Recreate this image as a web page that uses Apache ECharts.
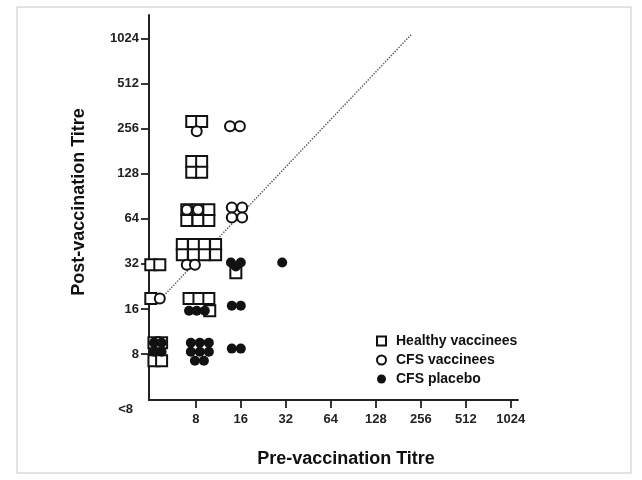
<!DOCTYPE html>
<html>
<head>
<meta charset="utf-8">
<script src="https://cdn.jsdelivr.net/npm/echarts@6/dist/echarts.min.js"></script>
<style>
html, body { margin: 0; padding: 0; background: #fff; }
#main { width: 642px; height: 480px; }
</style>
</head>
<body>
<div id="main"></div>
<script>
// titres on a log2 scale: value = log2(titre), 2 stands for "<8"
var tickValues = [3, 4, 5, 6, 7, 8, 9, 10];
var yLabelValues = [2, 3, 4, 5, 6, 7, 8, 9, 10];
var tickLabels = { 2: '<8', 3: '8', 4: '16', 5: '32', 6: '64', 7: '128', 8: '256', 9: '512', 10: '1024' };

// [log2 pre titre, log2 post titre] as placed in the figure (clusters are spread out)
var healthy = [
    [2.91, 8.16], [3.13, 8.16],
    [2.91, 7.27], [3.13, 7.27], [2.91, 7.03], [3.13, 7.03],
    [2.80, 6.20], [3.05, 6.20], [3.29, 6.20], [2.80, 5.96], [3.05, 5.96], [3.29, 5.96],
    [2.70, 5.43], [2.95, 5.43], [3.19, 5.43], [3.44, 5.43],
    [2.70, 5.20], [2.95, 5.20], [3.19, 5.20], [3.44, 5.20],
    [3.89, 4.80],
    [2.00, 4.98], [2.20, 4.98],
    [2.00, 4.23],
    [2.85, 4.23], [3.07, 4.23], [3.29, 4.23], [3.31, 3.96],
    [2.07, 3.25], [2.24, 3.25], [2.07, 2.85], [2.24, 2.85],
    [2.98, 3.16], [3.18, 3.16]
];
var cfsVaccinees = [
    [3.02, 7.94],
    [3.76, 8.05], [3.98, 8.05],
    [2.80, 6.20], [3.05, 6.20],
    [3.80, 6.25], [4.03, 6.25], [3.80, 6.03], [4.03, 6.03],
    [2.80, 4.98], [2.98, 4.98],
    [2.20, 4.23]
];
var cfsPlacebo = [
    [3.78, 5.03], [4.00, 5.03], [3.89, 4.94],
    [4.92, 5.03],
    [2.85, 3.96], [3.02, 3.96], [3.20, 3.96],
    [3.80, 4.07], [4.00, 4.07],
    [2.07, 3.25], [2.24, 3.25], [2.07, 3.05], [2.24, 3.05],
    [2.89, 3.25], [3.09, 3.25], [3.29, 3.25],
    [2.89, 3.05], [3.09, 3.05], [3.29, 3.05],
    [2.98, 2.85], [3.18, 2.85],
    [3.80, 3.12], [4.00, 3.12]
];
// four-fold rise line
var fourfoldLine = [[2.2, 4.2], [7.8, 10.1]];

var fontFam = '"Liberation Sans", Arial, sans-serif';

var myChart = echarts.init(document.getElementById('main'));
var option = {
    backgroundColor: '#fff',
    animation: false,
    grid: { left: 149, right: 124, top: 15, bottom: 80 },
    legend: {
        orient: 'vertical',
        left: 371,
        top: 329,
        itemWidth: 9,
        itemHeight: 9,
        itemGap: 5,
        data: ['Healthy vaccinees', 'CFS vaccinees', 'CFS placebo'],
        textStyle: { fontFamily: fontFam, fontSize: 14, fontWeight: 'bold', color: '#111', padding: [0, 0, 0, 5] }
    },
    xAxis: {
        type: 'value',
        min: 1.96,
        max: 10.16,
        splitLine: { show: false },
        axisLine: { onZero: false, lineStyle: { color: '#222', width: 2 } },
        axisTick: { customValues: tickValues, length: 8, lineStyle: { color: '#222', width: 1.8 } },
        axisLabel: {
            customValues: tickValues,
            margin: 13,
            fontFamily: fontFam, fontSize: 13, fontWeight: 'bold', color: '#222',
            formatter: function (v) { return tickLabels[Math.round(v)]; }
        }
    },
    yAxis: {
        type: 'value',
        min: 1.98,
        max: 10.52,
        splitLine: { show: false },
        axisLine: { onZero: false, lineStyle: { color: '#222', width: 2 } },
        axisTick: { customValues: tickValues, length: 8, lineStyle: { color: '#222', width: 1.8 } },
        axisLabel: {
            customValues: yLabelValues,
            margin: 10,
            fontFamily: fontFam, fontSize: 13, fontWeight: 'bold', color: '#222',
            formatter: function (v) {
                var k = Math.round(v);
                return k === 2 ? '{lt|<8}' : tickLabels[k];
            },
            rich: {
                lt: { fontFamily: fontFam, fontSize: 13, fontWeight: 'bold', color: '#222', padding: [20, 6, 0, 0] }
            }
        }
    },
    graphic: [
        { type: 'rect', shape: { x: 17, y: 7, width: 614, height: 466 }, style: { fill: null, stroke: '#c8c8c8', lineWidth: 1 }, silent: true },
        { type: 'text', x: 79, y: 202, rotation: Math.PI / 2,
          style: { text: 'Post-vaccination Titre', align: 'center', verticalAlign: 'middle', font: 'bold 18px ' + fontFam, fill: '#111' } },
        { type: 'text', x: 346, y: 459,
          style: { text: 'Pre-vaccination Titre', align: 'center', verticalAlign: 'middle', font: 'bold 18px ' + fontFam, fill: '#111' } }
    ],
    series: [{
        type: 'line',
        name: 'fourfold',
        data: fourfoldLine,
        showSymbol: false,
        silent: true,
        z: 1,
        lineStyle: { color: '#555', width: 1.4, type: 'dotted' }
    }, {
        type: 'scatter',
        name: 'Healthy vaccinees',
        data: healthy,
        symbol: 'rect',
        symbolSize: 11,
        z: 2,
        itemStyle: { color: '#fff', borderColor: '#111', borderWidth: 2, opacity: 1 }
    }, {
        type: 'scatter',
        name: 'CFS vaccinees',
        data: cfsVaccinees,
        symbol: 'circle',
        symbolSize: 10,
        z: 3,
        itemStyle: { color: '#fff', borderColor: '#111', borderWidth: 2, opacity: 1 }
    }, {
        type: 'scatter',
        name: 'CFS placebo',
        data: cfsPlacebo,
        symbol: 'circle',
        symbolSize: 10,
        z: 4,
        itemStyle: { color: '#111', opacity: 1 }
    }]
};
myChart.setOption(option);
</script>
</body>
</html>
